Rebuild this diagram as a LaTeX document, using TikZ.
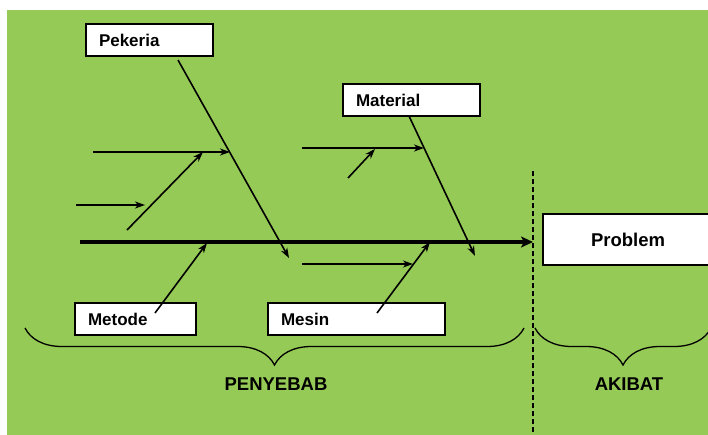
\documentclass[tikz,border=0pt]{standalone}
\usepackage{fontspec}
\setmainfont{Liberation Sans}
\usetikzlibrary{arrows.meta,decorations.pathreplacing}
\definecolor{bg}{HTML}{94CA55}
\begin{document}
\begin{tikzpicture}[x=1pt,y=-1pt,
  box/.style={draw=black, line width=1.2pt, fill=white, minimum height=32pt,
    inner xsep=13pt, inner ysep=0pt, font=\fontsize{17}{20}\selectfont\bfseries, align=left},
  bone/.style={line width=1.6pt, -{Stealth[length=10pt,width=7pt,inset=3pt]}},
  spine/.style={line width=4pt, -{Stealth[length=12pt,width=11pt,inset=3pt]}},
  bracestyle/.style={decorate, decoration={brace, mirror, amplitude=37pt}, line width=1.3pt},
  lab/.style={font=\fontsize{18.5}{20}\selectfont\bfseries}]
\useasboundingbox (0,0) rectangle (708,434);
\begin{scope}
\clip (0,0) rectangle (708,434);
\fill[white] (0,0) rectangle (708,434);
\fill[bg] (7,10) rectangle (720,440);

% boxes
\node[box, text width=101pt] (pek) at (149.5,40) {Pekeria};
\node[box, text width=111pt] (mat) at (411.5,100) {Material};
\node[box, text width=95pt]  (met) at (135.5,319) {Metode};
\node[box, text width=151pt] (mes) at (356.5,319) {Mesin};
\node[draw=black, line width=1.2pt, fill=white, minimum width=170pt, minimum height=51pt,
  font=\fontsize{18.5}{20}\selectfont\bfseries] (prob) at (628,239.5) {Problem};

% coordinates
\coordinate (spS) at (80,242);
\coordinate (spE) at (533,242);
\coordinate (pekA) at (178,60);
\coordinate (pekB) at (289,258);
\coordinate (pekM) at (230,152);
\coordinate (c1s) at (93,152);
\coordinate (c2s) at (127,230);
\coordinate (c2e) at (203,152);
\coordinate (c3s) at (76,205);
\coordinate (c3e) at (145,205);
\coordinate (matA) at (409,116);
\coordinate (matB) at (475,256);
\coordinate (matM) at (424,148);
\coordinate (m1s) at (302,148);
\coordinate (m2s) at (348,178);
\coordinate (m2e) at (375,149);
\coordinate (metA) at (155,313);
\coordinate (metB) at (207,243);
\coordinate (mesA) at (377,313);
\coordinate (mesB) at (430,242);
\coordinate (s1s) at (302,264);
\coordinate (s1e) at (413,264);
\coordinate (dashT) at (533,171);
\coordinate (dashB) at (533,436);

% spine
\draw[spine] (spS) -- (spE);
% bones
\draw[bone] (pekA) -- (pekB);
\draw[bone] (c1s) -- (pekM);
\draw[bone] (c2s) -- (c2e);
\draw[bone] (c3s) -- (c3e);
\draw[bone] (matA) -- (matB);
\draw[bone] (m1s) -- (matM);
\draw[bone] (m2s) -- (m2e);
\draw[bone] (metA) -- (metB);
\draw[bone] (mesA) -- (mesB);
\draw[bone] (s1s) -- (s1e);

% divider
\draw[line width=1.2pt, dash pattern=on 5pt off 3pt] (dashT) -- (dashB);

% braces
\coordinate (b1a) at (25,328);
\coordinate (b1b) at (524,328);
\coordinate (b2a) at (535,328);
\coordinate (b2b) at (711,328);
\draw[bracestyle] (b1a) -- (b1b);
\draw[bracestyle] (b2a) -- (b2b);
\node[lab] (peny) at (276,384) {PENYEBAB};
\node[lab] (akib) at (629,384) {AKIBAT};
\end{scope}
\end{tikzpicture}
\end{document}
